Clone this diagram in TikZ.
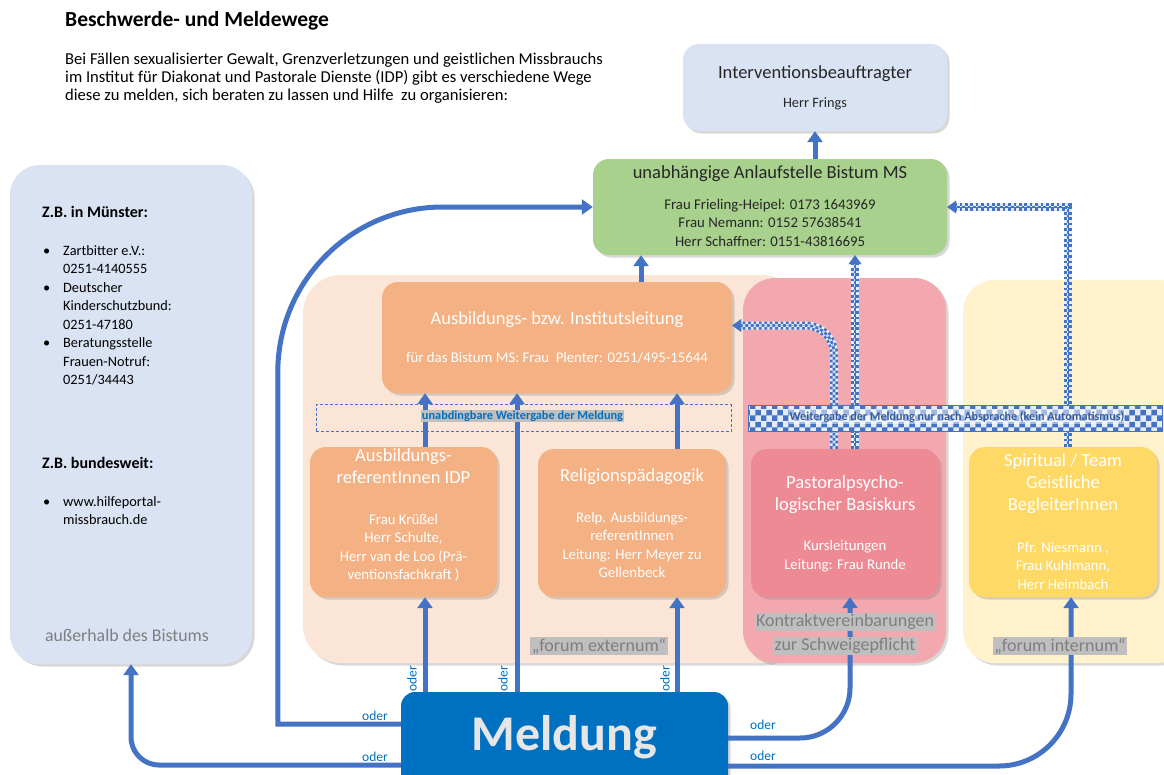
\documentclass[tikz,border=0pt]{standalone}
\usepackage{fontspec}
\setmainfont{Carlito}
\usetikzlibrary{arrows.meta, positioning, calc, shadows, patterns}

\definecolor{lblue}{HTML}{DAE3F3}
\definecolor{lgreen}{HTML}{A9D18E}
\definecolor{peach}{HTML}{FBE5D6}
\definecolor{orng}{HTML}{F4B183}
\definecolor{pinkr}{HTML}{F2A8AE}
\definecolor{pinkb}{HTML}{EE8A93}
\definecolor{yelr}{HTML}{FFF2CC}
\definecolor{yelb}{HTML}{FFD966}
\definecolor{mblue}{HTML}{0070C0}
\definecolor{ablue}{HTML}{4472C4}
\definecolor{chkl}{HTML}{E6ECF7}
\definecolor{hgray}{HTML}{BFBFBF}
\definecolor{gtext}{HTML}{7F7F7F}
\definecolor{mtxt}{HTML}{E7E6E6}
\definecolor{dtxt}{HTML}{262626}

\newcommand\listbul{\hspace*{1pt}\makebox[20pt][l]{\textbullet}}
\newcommand\listind{\hspace*{21pt}}

\begin{document}
\begin{tikzpicture}[
  x=1pt, y=-1pt,
  shade/.style={drop shadow={opacity=0.3, shadow xshift=2.5pt, shadow yshift=-2.5pt}},
  region/.style={shade, rounded corners=32pt, inner sep=0},
  box/.style={shade, rounded corners=16pt, inner sep=0},
  ttl/.style={align=center, font=\fontsize{18.5}{22}\selectfont},
  sub/.style={align=center, font=\fontsize{14.8}{18.5}\selectfont},
  arr/.style={draw=ablue, line width=5pt, -{Triangle[length=11pt, width=15pt]}},
  chk/.style={line width=8pt, draw=chkl, shorten >=8pt,
    postaction={draw=ablue, dash pattern=on 2.7pt off 2.7pt},
    postaction={draw=chkl, line width=2.7pt},
    postaction={draw=ablue, line width=2.7pt, dash pattern=on 2.7pt off 2.7pt, dash phase=2.7pt},
    postaction={draw=ablue, line width=0.2pt, shorten >=0pt, -{Triangle[length=9pt, width=13pt]}}},
  glabel/.style={fill=hgray, text=gtext, inner sep=1.5pt, font=\fontsize{18}{20}\selectfont},
  oder/.style={text=mblue, inner sep=1pt, font=\fontsize{13.5}{15}\selectfont}
]
\useasboundingbox (0,0) rectangle (1164,774);
\clip (0,0) rectangle (1164,774);
\fill[white] (0,0) rectangle (1164,774);

% Kopf
\node[anchor=west, inner sep=0, font=\bfseries\fontsize{21.5}{24}\selectfont] (title) at (65,21) {Beschwerde- und Meldewege};
\node[anchor=north west, inner sep=0, align=left, font=\fontsize{16.6}{18}\selectfont] (intro) at (65,53)
  {Bei Fällen sexualisierter Gewalt, Grenzverletzungen und geistlichen Missbrauchs\\
   im Institut für Diakonat und Pastorale Dienste (IDP) gibt es verschiedene Wege\\
   diese zu melden, sich beraten zu lassen und Hilfe\ \ zu organisieren:};

% Bereiche
\node[region, fill=lblue, rounded corners=30pt, minimum width=242pt, minimum height=499pt] (extern) at (131,414.5) {};
\node[region, fill=peach, rounded corners=38pt, minimum width=497pt, minimum height=388pt] (forumex) at (551.5,469) {};
\node[region, fill=pinkr, minimum width=203pt, minimum height=385pt] (kurs) at (844.5,470.5) {};
\node[region, fill=yelr, minimum width=227pt, minimum height=383pt] (forumin) at (1076.5,471.5) {};

% Kaestchen
\node[box, fill=lblue, minimum width=264pt, minimum height=87pt] (interv) at (815,87.5) {};
\node[box, fill=lgreen, minimum width=354pt, minimum height=96pt] (green) at (770,207) {};
\node[box, fill=orng, minimum width=350pt, minimum height=111pt] (inst) at (557,337.5) {};
\node[box, fill=orng, minimum width=187pt, minimum height=150pt] (aref) at (403.5,522) {};
\node[box, fill=orng, minimum width=188pt, minimum height=148pt] (relp) at (632,523) {};
\node[box, fill=pinkb, minimum width=188pt, minimum height=148pt] (pbox) at (845,523) {};
\node[box, fill=yelb, minimum width=188pt, minimum height=150pt] (spir) at (1063,522) {};
\node[draw=ablue, dash pattern=on 3pt off 2pt, line width=0.8pt, minimum width=415pt, minimum height=27pt, inner sep=0] (dbox) at (523.5,418) {};

% nur nach Absprache
\coordinate (c1) at ([xshift=10pt]pbox.north);
\coordinate (c2) at ([xshift=-11pt]pbox.north);
\coordinate (c3) at ([xshift=5pt]spir.north);
\draw[chk] (c1) -- (c1 |- green.south);
\draw[chk, rounded corners=28pt] (c2) |- ([yshift=12pt]inst.east);
\draw[chk] (c3) |- (green.east);
\node[draw=ablue, line width=0.6pt, fill=chkl, minimum width=414pt, minimum height=26pt, inner sep=0,
  postaction={pattern=checkerboard, pattern color=ablue}] (band) at (955,418) {};
\node[fill=white, fill opacity=0.5, text opacity=1, inner sep=1pt, text=ablue!80!black,
  font=\bfseries\fontsize{12.1}{14}\selectfont] (bandtxt) at (957,417)
  {Weitergabe der Meldung nur nach Absprache (kein Automatismus)};

% Meldewege
\coordinate (a1) at ([xshift=21.5pt]aref.south);
\coordinate (a2) at ([xshift=21.5pt]aref.north);
\coordinate (r1) at ([xshift=45pt]relp.south);
\coordinate (r2) at ([xshift=45pt]relp.north);
\coordinate (i1) at ([xshift=-40pt]inst.south);
\coordinate (i2) at ([xshift=84pt]inst.north);
\node[shade, fill=mblue, rounded corners=14pt, minimum width=327pt, minimum height=98pt, inner sep=0] (meld) at (564.5,741) {};
\draw[arr] (a1 |- meld.north) -- (a1);
\draw[arr] (i1 |- meld.north) -- (i1);
\draw[arr] (r1 |- meld.north) -- (r1);
\draw[arr] (a2) -- (a2 |- inst.south);
\draw[arr] (r2) -- (r2 |- inst.south);
\draw[arr] (i2) -- (i2 |- green.south);
\draw[arr] (interv.south |- green.north) -- (interv.south);
\draw[arr] ([yshift=17pt]meld.west) -- ++(-123,0) [rounded corners=165pt] |- (green.west);
\draw[arr, rounded corners=28pt] ([yshift=-24pt]meld.west) -| (extern.south);
\draw[arr, rounded corners=50pt] ([yshift=3pt]meld.east) -| ([xshift=5pt]pbox.south);
\draw[arr, rounded corners=72pt] ([yshift=-25pt]meld.east) -| ([xshift=8pt]spir.south);

% Texte
\node[ttl, text=dtxt] (intervt) at (815,74) {Interventionsbeauftragter};
\node[sub, text=dtxt, font=\fontsize{14.3}{18}\selectfont] (intervs) at (815,104) {Herr Frings};
\node[ttl, text=dtxt] (greent) at (770,174) {unabhängige Anlaufstelle Bistum MS};
\node[sub, text=dtxt] (greens) at (770,222.5)
  {Frau Frieling-Heipel: 0173 1643969\\ Frau Nemann: 0152 57638541\\ Herr Schaffner: 0151-43816695};
\node[ttl, text=white] (instt) at (557,320) {Ausbildungs- bzw. Institutsleitung};
\node[sub, text=white] (insts) at (557,358) {für das Bistum MS: Frau\ \ Plenter: 0251/495-15644};
\node[ttl, text=white] (areft) at (403.5,466) {Ausbildungs-\\ referentInnen IDP};
\node[sub, text=white] (arefs) at (403.5,548) {Frau Krüßel\\ Herr Schulte,\\ Herr van de Loo (Prä-\\ ventionsfachkraft )};
\node[ttl, text=white] (relpt) at (632,477) {Religionspädagogik};
\node[sub, text=white] (relps) at (632,545) {Relp. Ausbildungs-\\ referentInnen\\ Leitung: Herr Meyer zu\\ Gellenbeck};
\node[ttl, text=white] (pboxt) at (845,494.5) {Pastoralpsycho-\\ logischer Basiskurs};
\node[sub, text=white] (pboxs) at (845,556) {Kursleitungen\\ Leitung: Frau Runde};
\node[ttl, text=white] (spirt) at (1063,484) {Spiritual / Team\\ Geistliche\\ BegleiterInnen};
\node[sub, text=white] (spirs) at (1063,565.5) {Pfr. Niesmann ,\\ Frau Kuhlmann,\\ Herr Heimbach};

\node[fill=hgray, inner sep=1pt, text=mblue, font=\bfseries\fontsize{12.3}{14}\selectfont] (dtext) at (522.5,416) {unabdingbare Weitergabe der Meldung};

\node[glabel] (fext) at (599,646) {„forum externum“};
\node[glabel] (kon1) at (845,622) {Kontraktvereinbarungen};
\node[glabel] (kon2) at (845,646) {zur Schweigepflicht};
\node[glabel] (fint) at (1060,646) {„forum internum“};

% außerhalb
\node[anchor=west, inner sep=0, font=\bfseries\fontsize{16}{18}\selectfont] (zb1) at (42,212) {Z.B. in Münster:};
\node[anchor=north west, inner sep=0, align=left, font=\fontsize{14.3}{18.5}\selectfont] (list1) at (42,245)
  {\listbul Zartbitter e.V.:\\ \listind 0251-4140555\\ \listbul Deutscher\\ \listind Kinderschutzbund:\\
   \listind 0251-47180\\ \listbul Beratungsstelle\\ \listind Frauen-Notruf:\\ \listind 0251/34443};
\node[anchor=west, inner sep=0, font=\bfseries\fontsize{16}{18}\selectfont] (zb2) at (42,463) {Z.B. bundesweit:};
\node[anchor=north west, inner sep=0, align=left, font=\fontsize{14.3}{18.5}\selectfont] (list2) at (42,496)
  {\listbul www.hilfeportal-\\ \listind missbrauch.de};
\node[text=gtext, font=\fontsize{17.8}{20}\selectfont] (aussen) at (127,635) {außerhalb des Bistums};

% Meldung
\node[text=mtxt, font=\bfseries\fontsize{50}{56}\selectfont] (meldt) at (564.5,737) {Meldung};
\node[oder] (o1) at (375,716) {oder};
\node[oder] (o2) at (375,757) {oder};
\node[oder] (o3) at (763,725) {oder};
\node[oder] (o4) at (763,756) {oder};
\node[oder, rotate=90] (o5) at (412,679) {oder};
\node[oder, rotate=90] (o6) at (503,679) {oder};
\node[oder, rotate=90] (o7) at (665,679) {oder};
\end{tikzpicture}
\end{document}
